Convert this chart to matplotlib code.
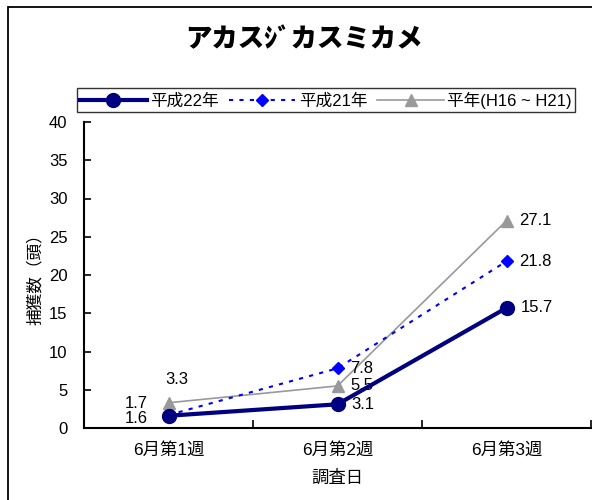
import matplotlib
matplotlib.use("Agg")
import matplotlib.pyplot as plt
from matplotlib.patches import Rectangle

plt.rcParams["font.family"] = ["Liberation Sans", "Noto Sans CJK JP", "DejaVu Sans"]

# survey weeks and catch counts
weeks = ["6月第1週", "6月第2週", "6月第3週"]
h22 = [1.6, 3.1, 15.7]
h21 = [1.7, 7.8, 21.8]
normal = [3.3, 5.5, 27.1]

title = "アカスｼﾞカスミカメ"
series_names = ["平成22年", "平成21年", "平年(H16 ~ H21)"]

fig = plt.figure(figsize=(5.92, 5.0), dpi=100)
ax = fig.add_axes([84 / 592, 1 - 428 / 500, 507 / 592, 306 / 500])

# outer frame of the chart area
fig.patches.append(Rectangle((8 / 592, -0.1), 1.2, 1 - 7 / 500 + 0.1,
                             transform=fig.transFigure, fill=False,
                             edgecolor="black", linewidth=1.3))

x = list(range(len(weeks)))
l1, = ax.plot(x, h22, color="#000080", lw=3, marker="o", ms=10,
              markerfacecolor="#000080", markeredgecolor="#000080", zorder=4)
l2, = ax.plot(x, h21, color="#0000FF", lw=1.5, ls=(0, (2, 3)), marker="D", ms=6,
              markerfacecolor="#0000FF", markeredgecolor="#0000FF", zorder=3)
l3, = ax.plot(x, normal, color="#999999", lw=1.2, marker="^", ms=9,
              markerfacecolor="#999999", markeredgecolor="#999999", zorder=2)

# value labels
fs = 12
ax.annotate(f"{h22[0]}", (x[0], h22[0]), xytext=(-23, -2), textcoords="offset points",
            ha="center", va="center", fontsize=fs)
ax.annotate(f"{h21[0]}", (x[0], h21[0]), xytext=(-23, 8), textcoords="offset points",
            ha="center", va="center", fontsize=fs)
ax.annotate(f"{normal[0]}", (x[0], normal[0]), xytext=(6, 17), textcoords="offset points",
            ha="center", va="center", fontsize=fs)
for i in (1, 2):
    ax.annotate(f"{h22[i]}", (x[i], h22[i]), xytext=(10, 0), textcoords="offset points",
                ha="left", va="center", fontsize=fs)
    ax.annotate(f"{h21[i]}", (x[i], h21[i]), xytext=(9, 0), textcoords="offset points",
                ha="left", va="center", fontsize=fs)
    ax.annotate(f"{normal[i]}", (x[i], normal[i]), xytext=(9, 0), textcoords="offset points",
                ha="left", va="center", fontsize=fs)

ax.set_xlim(-0.5, 2.5)
ax.set_ylim(0, 40)
ax.set_yticks(range(0, 41, 5))
ax.set_xticks([-0.5, 0.5, 1.5, 2.5])
ax.set_xticklabels([])
ax.set_xticks(x, minor=True)
ax.set_xticklabels(weeks, minor=True, fontsize=12.5)
ax.tick_params(axis="x", which="major", direction="in", length=6, width=1.2)
ax.tick_params(axis="x", which="minor", length=0, pad=10)
ax.tick_params(axis="y", direction="in", length=5, width=1.2, labelsize=12, pad=12)

for s in ("top", "right"):
    ax.spines[s].set_visible(False)
for s in ("left", "bottom"):
    ax.spines[s].set_linewidth(1.5)

ax.set_xlabel("調査日", fontsize=12.5, labelpad=9)
ax.set_ylabel("捕獲数（頭）", fontsize=12, labelpad=4)

fig.text(304 / 592, 1 - 39 / 500, title, ha="center", va="center",
         fontsize=19, fontweight="heavy", family=["Noto Sans CJK JP"])

leg = fig.legend([l1, l2, l3], series_names, loc="center",
                 bbox_to_anchor=(326 / 592, 1 - 100 / 500), ncol=3,
                 fontsize=12, frameon=True, fancybox=False, handlelength=4,
                 handletextpad=0.2, columnspacing=0.6, borderpad=0.2,
                 borderaxespad=0)
leg.get_frame().set_edgecolor("black")
leg.get_frame().set_linewidth(1.0)

fig.savefig("out.png", dpi=100)
